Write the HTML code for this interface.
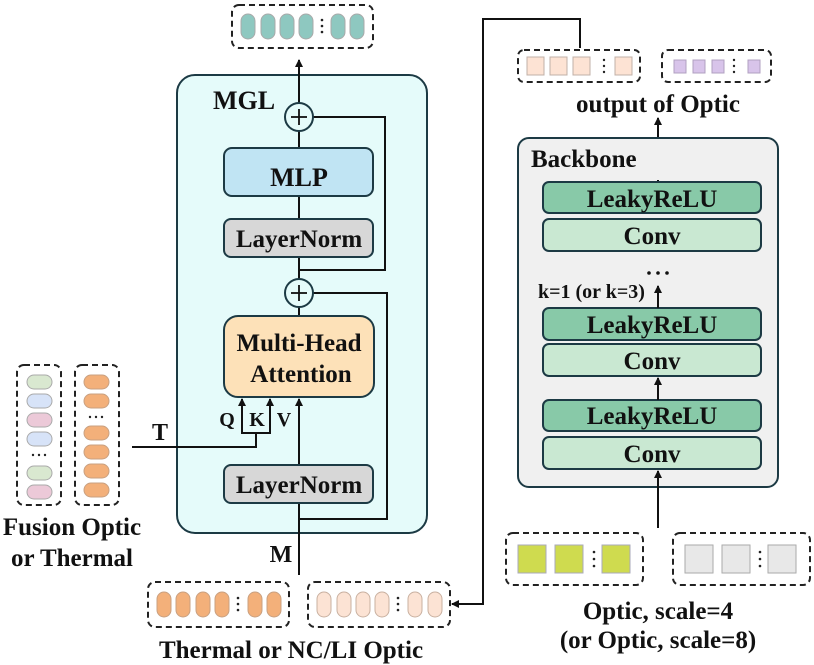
<!DOCTYPE html>
<html><head><meta charset="utf-8"><style>
html,body{margin:0;padding:0;background:#fff}
svg{display:block}
text{font-family:"Liberation Serif",serif;font-weight:bold;fill:#111}
</style></head><body>
<svg width="814" height="665" viewBox="0 0 814 665" xmlns="http://www.w3.org/2000/svg">
<defs>
<marker id="ah" markerWidth="8" markerHeight="8" refX="7" refY="4" orient="auto" markerUnits="userSpaceOnUse">
<path d="M0,0 L8,4 L0,8 z" fill="#111"/></marker>
</defs>
<g stroke-dasharray="6,4" stroke="#222" stroke-width="2" fill="none">
<rect x="232" y="5" width="141" height="43" rx="7"/>
<rect x="148" y="582" width="141" height="45" rx="7"/>
<rect x="308" y="582" width="142" height="45" rx="7"/>
<rect x="17" y="365" width="44" height="140" rx="7"/>
<rect x="75" y="365" width="44" height="140" rx="7"/>
<rect x="518" y="50" width="122" height="32" rx="6"/>
<rect x="662" y="50" width="109" height="32" rx="6"/>
<rect x="506" y="533" width="137" height="52" rx="7"/>
<rect x="673" y="533" width="137" height="52" rx="7"/>
</g>
<g fill="#8ec8c0" stroke="#a9a9a9" stroke-width="1">
<rect x="241" y="14" width="14" height="25" rx="7"/><rect x="261" y="14" width="14" height="25" rx="7"/>
<rect x="280" y="14" width="14" height="25" rx="7"/><rect x="299" y="14" width="14" height="25" rx="7"/>
<rect x="331" y="14" width="14" height="25" rx="7"/><rect x="350" y="14" width="14" height="25" rx="7"/>
</g>
<g fill="#222"><circle cx="322" cy="20" r="1.3"/><circle cx="322" cy="26" r="1.3"/><circle cx="322" cy="32" r="1.3"/></g>
<g fill="#f3b07a" stroke="#c9a080" stroke-width="1">
<rect x="157" y="592" width="14" height="25" rx="7"/><rect x="176" y="592" width="14" height="25" rx="7"/>
<rect x="196" y="592" width="14" height="25" rx="7"/><rect x="215" y="592" width="14" height="25" rx="7"/>
<rect x="248" y="592" width="14" height="25" rx="7"/><rect x="267" y="592" width="14" height="25" rx="7"/>
</g>
<g fill="#222"><circle cx="238" cy="598" r="1.3"/><circle cx="238" cy="604" r="1.3"/><circle cx="238" cy="610" r="1.3"/></g>
<g fill="#fce3d4" stroke="#c9b0a0" stroke-width="1">
<rect x="317" y="592" width="14" height="25" rx="7"/><rect x="337" y="592" width="14" height="25" rx="7"/>
<rect x="356" y="592" width="14" height="25" rx="7"/><rect x="375" y="592" width="14" height="25" rx="7"/>
<rect x="408" y="592" width="14" height="25" rx="7"/><rect x="428" y="592" width="14" height="25" rx="7"/>
</g>
<g fill="#222"><circle cx="398" cy="598" r="1.3"/><circle cx="398" cy="604" r="1.3"/><circle cx="398" cy="610" r="1.3"/></g>
<g stroke="#aaa" stroke-width="1">
<rect x="27" y="375" width="25" height="14" rx="7" fill="#d9e8d0"/>
<rect x="27" y="394" width="25" height="14" rx="7" fill="#d7e3f8"/>
<rect x="27" y="413" width="25" height="14" rx="7" fill="#ecc9d8"/>
<rect x="27" y="432" width="25" height="14" rx="7" fill="#d7e3f8"/>
<rect x="27" y="466" width="25" height="14" rx="7" fill="#d9e8d0"/>
<rect x="27" y="485" width="25" height="14" rx="7" fill="#ecc9d8"/>
<g fill="#f3b07a" stroke="#c9a080">
<rect x="84" y="375" width="25" height="14" rx="7"/><rect x="84" y="394" width="25" height="14" rx="7"/>
<rect x="84" y="426" width="25" height="14" rx="7"/><rect x="84" y="445" width="25" height="14" rx="7"/>
<rect x="84" y="464" width="25" height="14" rx="7"/><rect x="84" y="483" width="25" height="14" rx="7"/>
</g></g>
<g fill="#222"><circle cx="33" cy="455" r="1.2"/><circle cx="39" cy="455" r="1.2"/><circle cx="45" cy="455" r="1.2"/>
<circle cx="90" cy="417" r="1.2"/><circle cx="96" cy="417" r="1.2"/><circle cx="102" cy="417" r="1.2"/></g>
<text x="72" y="535" font-size="25" text-anchor="middle">Fusion Optic</text>
<text x="72" y="566" font-size="25" text-anchor="middle">or Thermal</text>
<text x="160" y="440" font-size="24" text-anchor="middle">T</text>
<rect x="177" y="75" width="250" height="458" rx="18" fill="#e5fbfa" stroke="#1c3a44" stroke-width="2"/>
<text x="213" y="109" font-size="26">MGL</text>
<g stroke="#111" stroke-width="2" fill="none">
<line x1="299" y1="103" x2="299" y2="60" marker-end="url(#ah)"/>
<polyline points="313,117 385,117 385,270 299,270"/>
<line x1="299" y1="131" x2="299" y2="148"/>
<line x1="299" y1="196" x2="299" y2="219"/>
<line x1="299" y1="257" x2="299" y2="279"/>
<polyline points="313,293 387,293 387,519 299,519"/>
<line x1="299" y1="307" x2="299" y2="316"/>
<line x1="299" y1="575" x2="299" y2="503"/>
<line x1="299" y1="465" x2="299" y2="399" marker-end="url(#ah)"/>
<line x1="242" y1="433" x2="242" y2="399" marker-end="url(#ah)"/>
<line x1="270" y1="433" x2="270" y2="399" marker-end="url(#ah)"/>
<polyline points="241,433 271,433"/>
<polyline points="256,433 256,447 132,447"/>
<polyline points="580,48 580,19 483,19 483,604 452,604" marker-end="url(#ah)"/>
<line x1="658" y1="180" x2="658" y2="118" marker-end="url(#ah)"/>
</g>
<g fill="#e5fbfa" stroke="#1c3a44" stroke-width="2">
<circle cx="299" cy="117" r="14"/><circle cx="299" cy="293" r="14"/></g>
<g stroke="#111" stroke-width="1.8"><line x1="291" y1="117" x2="307" y2="117"/><line x1="299" y1="109" x2="299" y2="125"/>
<line x1="291" y1="293" x2="307" y2="293"/><line x1="299" y1="285" x2="299" y2="301"/></g>
<rect x="224" y="148" width="149" height="48" rx="8" fill="#c0e4f3" stroke="#1c3a44" stroke-width="2"/>
<text x="299" y="186" font-size="26" text-anchor="middle">MLP</text>
<rect x="224" y="219" width="149" height="38" rx="7" fill="#d7d7d7" stroke="#1c3a44" stroke-width="2"/>
<text x="299" y="247" font-size="25" text-anchor="middle">LayerNorm</text>
<rect x="224" y="316" width="150" height="81" rx="14" fill="#fde1b8" stroke="#1c3a44" stroke-width="2"/>
<text x="299" y="351" font-size="25" text-anchor="middle">Multi-Head</text>
<text x="301" y="382" font-size="25" text-anchor="middle">Attention</text>
<rect x="224" y="465" width="149" height="38" rx="7" fill="#d7d7d7" stroke="#1c3a44" stroke-width="2"/>
<text x="299" y="493" font-size="25" text-anchor="middle">LayerNorm</text>
<text x="227" y="426" font-size="20" text-anchor="middle">Q</text>
<text x="257" y="426" font-size="20" text-anchor="middle">K</text>
<text x="284" y="426" font-size="20" text-anchor="middle">V</text>
<text x="281" y="562" font-size="24" text-anchor="middle">M</text>
<text x="291" y="658" font-size="25" text-anchor="middle">Thermal or NC/LI Optic</text>
<g fill="#fde3d4" stroke="#c0b0a8" stroke-width="1">
<rect x="527" y="57" width="17" height="18"/><rect x="550" y="57" width="17" height="18"/>
<rect x="573" y="57" width="17" height="18"/><rect x="615" y="57" width="17" height="18"/></g>
<g fill="#222"><circle cx="604" cy="60" r="1.2"/><circle cx="604" cy="66" r="1.2"/><circle cx="604" cy="72" r="1.2"/>
<circle cx="734" cy="60" r="1.2"/><circle cx="734" cy="66" r="1.2"/><circle cx="734" cy="72" r="1.2"/></g>
<g fill="#d8c4ea" stroke="#b0a0c0" stroke-width="1">
<rect x="674" y="60" width="12" height="13"/><rect x="693" y="60" width="12" height="13"/>
<rect x="712" y="60" width="12" height="13"/><rect x="748" y="60" width="12" height="13"/></g>
<text x="658" y="112" font-size="25" text-anchor="middle">output of Optic</text>
<rect x="518" y="138" width="260" height="349" rx="11" fill="#f0f0f0" stroke="#1c3a44" stroke-width="2"/>
<line x1="658" y1="180" x2="658" y2="182" stroke="#111" stroke-width="2"/>
<text x="531" y="167" font-size="25">Backbone</text>
<g stroke="#1c3a44" stroke-width="2">
<rect x="543" y="182" width="218" height="31" rx="6" fill="#88c9a8"/>
<rect x="543" y="219" width="218" height="32" rx="6" fill="#c9e8d2"/>
<rect x="543" y="308" width="218" height="32" rx="6" fill="#88c9a8"/>
<rect x="543" y="344" width="218" height="32" rx="6" fill="#c9e8d2"/>
<rect x="543" y="400" width="218" height="31" rx="6" fill="#88c9a8"/>
<rect x="543" y="437" width="218" height="32" rx="6" fill="#c9e8d2"/>
</g>
<g font-size="25" text-anchor="middle">
<text x="652" y="207">LeakyReLU</text><text x="652" y="244">Conv</text>
<text x="652" y="333">LeakyReLU</text><text x="652" y="369">Conv</text>
<text x="652" y="424">LeakyReLU</text><text x="652" y="462">Conv</text></g>
<g fill="#111"><circle cx="649" cy="273" r="1.8"/><circle cx="658" cy="273" r="1.8"/><circle cx="667" cy="273" r="1.8"/></g>
<text x="538" y="298" font-size="20">k=1 (or k=3)</text>
<g stroke="#111" stroke-width="2">
<line x1="658" y1="308" x2="658" y2="286" marker-end="url(#ah)"/>
<line x1="658" y1="400" x2="658" y2="378" marker-end="url(#ah)"/>
<line x1="658" y1="528" x2="658" y2="471" marker-end="url(#ah)"/>
</g>
<g fill="#cfdb4f" stroke="#aab" stroke-width="1">
<rect x="518" y="545" width="28" height="28"/><rect x="555" y="545" width="28" height="28"/><rect x="602" y="545" width="28" height="28"/></g>
<g fill="#e8e8e8" stroke="#aaa" stroke-width="1">
<rect x="685" y="545" width="28" height="28"/><rect x="722" y="545" width="28" height="28"/><rect x="768" y="545" width="28" height="28"/></g>
<g fill="#222"><circle cx="594" cy="552" r="1.3"/><circle cx="594" cy="559" r="1.3"/><circle cx="594" cy="566" r="1.3"/>
<circle cx="760" cy="552" r="1.3"/><circle cx="760" cy="559" r="1.3"/><circle cx="760" cy="566" r="1.3"/></g>
<text x="658" y="619" font-size="25" text-anchor="middle">Optic, scale=4</text>
<text x="658" y="648" font-size="25" text-anchor="middle">(or Optic, scale=8)</text>
</svg>
</body></html>
